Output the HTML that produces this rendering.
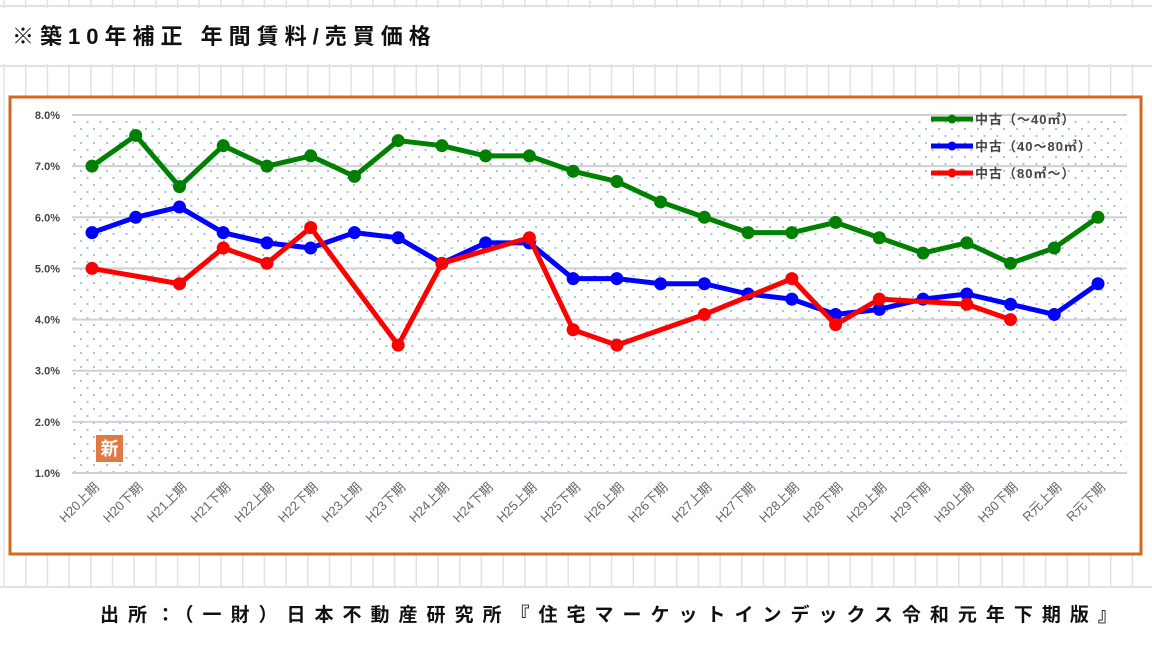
<!DOCTYPE html>
<html><head><meta charset="utf-8">
<style>
body{margin:0;width:1152px;height:647px;overflow:hidden;background:#fff;font-family:"Liberation Sans","Noto Sans CJK JP",sans-serif;}
</style></head>
<body>
<svg id="s" width="1152" height="647" xmlns="http://www.w3.org/2000/svg">
<defs>
<pattern id="dots" width="13" height="14" patternUnits="userSpaceOnUse">
<rect x="2" y="2" width="2" height="2" fill="#a9c1e0"/>
<rect x="8.5" y="9" width="2" height="2" fill="#a9c1e0"/>
</pattern>
</defs>
<g id="sheet"></g>
<text x="12" y="44" font-size="22" font-weight="bold" fill="#111" letter-spacing="6">※築10年補正 年間賃料/売買価格</text>
<rect x="10" y="97" width="1131" height="457" fill="#fff" stroke="#d2691e" stroke-width="3"/>
<rect x="72" y="115" width="1055" height="358" fill="url(#dots)"/>
<g id="grid"></g>
<g id="yt"></g>
<g id="xt"></g>
<g id="series"></g>
<g id="legend"></g>
<rect x="96" y="435" width="27" height="27" fill="#e07a45"/>
<text x="109.5" y="455" font-size="18" font-weight="bold" fill="#fff" text-anchor="middle">新</text>
<text x="100" y="621" font-size="19" font-weight="bold" fill="#111" letter-spacing="9">出所：（一財）日本不動産研究所『住宅マーケットインデックス令和元年下期版』</text>
</svg>
<script>
const categories=["H20上期","H20下期","H21上期","H21下期","H22上期","H22下期","H23上期","H23下期","H24上期","H24下期","H25上期","H25下期","H26上期","H26下期","H27上期","H27下期","H28上期","H28下期","H29上期","H29下期","H30上期","H30下期","R元上期","R元下期"];
const small=[7.0,7.6,6.6,7.4,7.0,7.2,6.8,7.5,7.4,7.2,7.2,6.9,6.7,6.3,6.0,5.7,5.7,5.9,5.6,5.3,5.5,5.1,5.4,6.0];
const mid=[5.7,6.0,6.2,5.7,5.5,5.4,5.7,5.6,5.1,5.5,5.5,4.8,4.8,4.7,4.7,4.5,4.4,4.1,4.2,4.4,4.5,4.3,4.1,4.7];
const large=[5.0,null,4.7,5.4,5.1,5.8,null,3.5,5.1,null,5.6,3.8,3.5,null,4.1,null,4.8,3.9,4.4,null,4.3,4.0,null,null];
const yTicks=[1,2,3,4,5,6,7,8];
const seriesNames=["中古（～40㎡）","中古（40～80㎡）","中古（80㎡～）"];
const NS="http://www.w3.org/2000/svg";
const X=i=>92+i*(1098-92)/(categories.length-1);
const Y=v=>473-(v-1)*(473-115)/7;
function mk(t,a,p){const e=document.createElementNS(NS,t);for(const k in a)e.setAttribute(k,a[k]);(p||document.getElementById('s')).appendChild(e);return e;}
const sh=document.getElementById('sheet');
for(let x=4;x<1152;x+=21.7){const l=mk('line',{x1:x,y1:0,x2:x,y2:647,stroke:'#e2e2e2','stroke-width':1.5},sh);}
[5,65,586].forEach(y=>{const l=mk('rect',{x:0,y:y,width:1152,height:2,fill:'#e2e2e2'},sh);});
mk('rect',{x:0,y:8,width:1152,height:56,fill:'#fff'},sh);
mk('rect',{x:0,y:588,width:1152,height:59,fill:'#fff'},sh);
const g=document.getElementById('grid'),yt=document.getElementById('yt'),xt=document.getElementById('xt');
yTicks.forEach(v=>{
const l=mk('line',{x1:72,x2:1127,y1:Y(v),y2:Y(v),stroke:'#d0d0d0','stroke-width':2},g);

const t=mk('text',{x:60,y:Y(v)+4,'font-size':11,'font-weight':'bold',fill:'#444','text-anchor':'end'},yt);
t.textContent=v.toFixed(1)+'%';

});
categories.forEach((c,i)=>{
const t=mk('text',{transform:`translate(${X(i)+8},${488}) rotate(-45)`,'font-size':13,fill:'#666','text-anchor':'end'},xt);
t.textContent=c;

});
const colors=["#008000","#0000ff","#ff0000"];
const sg=document.getElementById('series');
[small,mid,large].forEach((arr,si)=>{
const pts=[];arr.forEach((v,i)=>{if(v!=null)pts.push([X(i),Y(v)]);});
const p=mk('polyline',{points:pts.map(q=>q.join(',')).join(' '),fill:'none',stroke:colors[si],'stroke-width':5,'stroke-linejoin':'round'},sg);

pts.forEach(q=>{const c=mk('circle',{cx:q[0],cy:q[1],r:6.5,fill:colors[si]},sg);
});
});
const lg=document.getElementById('legend');
seriesNames.forEach((n,i)=>{
const y=119+i*27;
const l=mk('line',{x1:931,x2:973,y1:y,y2:y,stroke:colors[i],'stroke-width':5},lg);

const c=mk('circle',{cx:952,cy:y,r:4.5,fill:colors[i]},lg);

const t=mk('text',{x:975,y:y+5,'font-size':13,'font-weight':'bold',fill:'#444','letter-spacing':1},lg);
t.textContent=n;

});
</script>
</body></html>
